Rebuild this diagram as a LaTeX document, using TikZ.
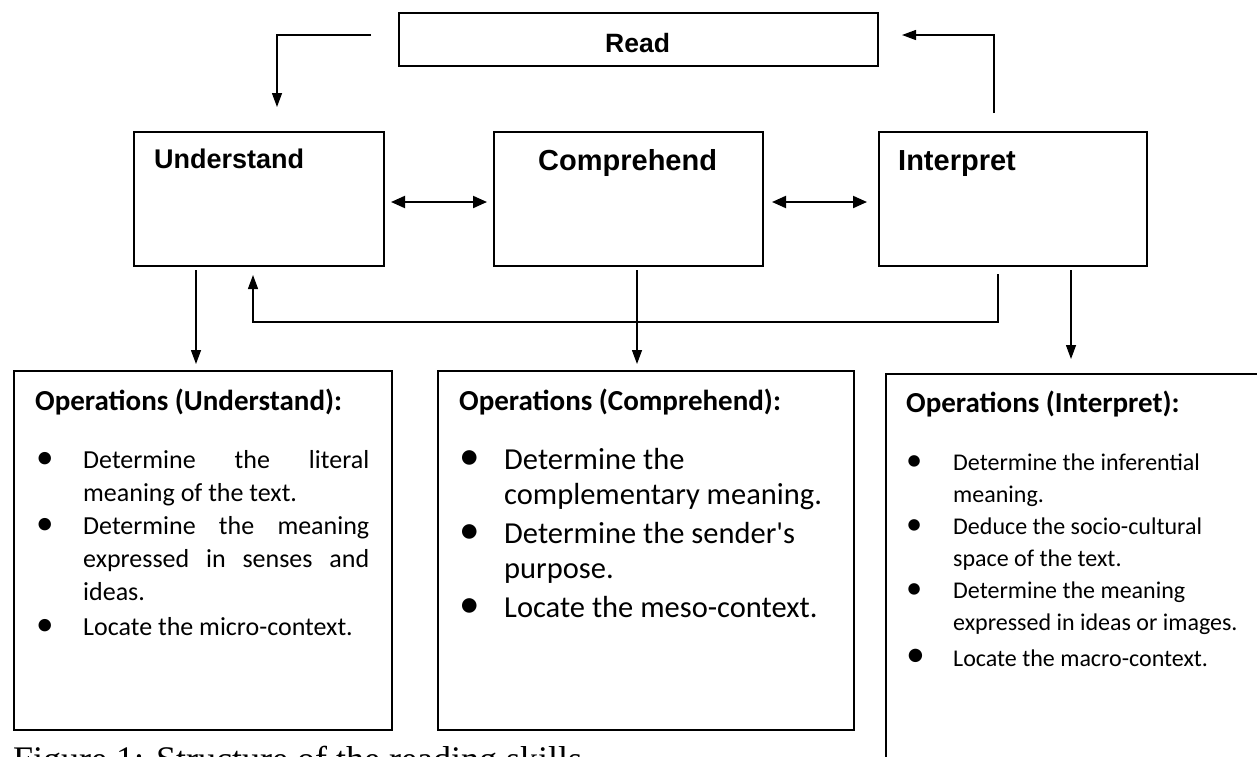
\documentclass[tikz,border=0pt]{standalone}
\usepackage{fontspec}
\usepackage{graphicx}
\setmainfont{Carlito}
\newfontfamily\arialf{Liberation Sans}
\newfontfamily\timesf{Liberation Serif}
\usetikzlibrary{arrows.meta}
\newcommand\jlineA[1]{\makebox[286pt][s]{#1}}
\newcommand\bul{\raisebox{-0.02em}{\scalebox{1.35}{\textbullet}}}
\begin{document}
\begin{tikzpicture}[x=1pt,y=-1pt,
  topbox/.style={draw, line width=1.8pt, inner sep=0pt, anchor=north west},
  opbox/.style={draw, line width=1.6pt, inner sep=0pt, anchor=north west},
  toplbl/.style={inner sep=0pt, anchor=base west, font=\arialf\bfseries},
  optitle/.style={inner sep=0pt, anchor=base west, font=\bfseries\fontsize{29}{32}\selectfont},
  oplist/.style={inner sep=0pt, anchor=north west},
  arr/.style={line width=1.3pt, -{Triangle[length=14pt,width=10pt]}},
  darr/.style={line width=2pt, {Triangle[length=14pt,width=12pt]}-{Triangle[length=14pt,width=12pt]}}]
\useasboundingbox (0,0) rectangle (1257,756);

% top boxes
\node[topbox, minimum width=479pt, minimum height=53pt] (read) at (398,12) {};
\node[toplbl, font=\arialf\bfseries\fontsize{26.5}{30}\selectfont] (readl) at (605,52.5) {Read};

\node[topbox, minimum width=250pt, minimum height=134pt] (und) at (133,131) {};
\node[toplbl, font=\arialf\bfseries\fontsize{27}{30}\selectfont] (undl) at (154,168) {Understand};

\node[topbox, minimum width=269pt, minimum height=134pt] (com) at (493,131) {};
\node[toplbl, font=\arialf\bfseries\fontsize{29}{32}\selectfont] (coml) at (538,170) {Comprehend};

\node[topbox, minimum width=268pt, minimum height=134pt] (int) at (878,131) {};
\node[toplbl, font=\arialf\bfseries\fontsize{29}{32}\selectfont] (intl) at (898,170) {Interpret};

% bottom boxes
\node[opbox, minimum width=378pt, minimum height=359pt] (ou) at (13,370) {};
\node[optitle] (out) at (35,410) {Operations (Understand):};
\node[oplist, font=\fontsize{26}{33}\selectfont] (oul) at (36,468-23.1) {%
\begin{tabular}{@{}p{47pt}@{}l@{}}
\bul & \jlineA{Determine the literal}\\
 & meaning of the text.\\
\bul & \jlineA{Determine the meaning}\\
 & \jlineA{expressed in senses and}\\
 & ideas.\\[2pt]
\bul & Locate the micro-context.
\end{tabular}};

\node[opbox, minimum width=416pt, minimum height=359pt] (oc) at (437,370) {};
\node[optitle] (oct) at (459,410) {Operations (Comprehend):};
\node[oplist, font=\fontsize{30.5}{35.5}\selectfont] (ocl) at (459,469-24.85) {%
\begin{tabular}{@{}p{45pt}@{}l@{}}
\bul & Determine the\\
 & complementary meaning.\\[3pt]
\bul & Determine the sender\textquotesingle s\\
 & purpose.\\[3pt]
\bul & Locate the meso-context.
\end{tabular}};

\node[opbox, minimum width=400pt, minimum height=420pt] (oi) at (885,373) {};
\node[optitle] (oit) at (906,412) {Operations (Interpret):};
\node[oplist, font=\fontsize{24}{32}\selectfont] (oil) at (906,470-22.4) {%
\begin{tabular}{@{}p{47pt}@{}l@{}}
\bul & Determine the inferential\\
 & meaning.\\
\bul & Deduce the socio-cultural\\
 & space of the text.\\
\bul & Determine the meaning\\
 & expressed in ideas or images.\\[4pt]
{\fontsize{28}{32}\selectfont\bul} & Locate the macro-context.
\end{tabular}};

% caption
\node[inner sep=0pt, anchor=base west, font=\timesf\fontsize{36}{40}\selectfont] (cap) at (13,771) {Figure 1: Structure of the reading skills};

% connectors
\coordinate (ra) at (371,35);
\coordinate (ua) at (277,107);
\draw[arr] (ra) -| (ua);

\coordinate (ib) at (994,113);
\coordinate (rb) at (902,35);
\draw[arr] (ib) |- (rb);

\coordinate (d1a) at (391,202);
\coordinate (d1b) at (487,202);
\draw[darr] (d1a) -- (d1b);
\coordinate (d2a) at (772,202);
\coordinate (d2b) at (867,202);
\draw[darr] (d2a) -- (d2b);

\coordinate (uo1) at (196,270);
\coordinate (uo2) at (196,364);
\draw[arr] (uo1) -- (uo2);
\coordinate (co1) at (637,270);
\coordinate (co2) at (637,364);
\draw[arr] (co1) -- (co2);
\coordinate (io1) at (1071,270);
\coordinate (io2) at (1071,359);
\draw[arr] (io1) -- (io2);

\coordinate (fi) at (998,274);
\coordinate (fc) at (998,322);
\coordinate (fu) at (253,275);
\draw[arr] (fi) -- (fc) -| (fu);
\end{tikzpicture}
\end{document}
